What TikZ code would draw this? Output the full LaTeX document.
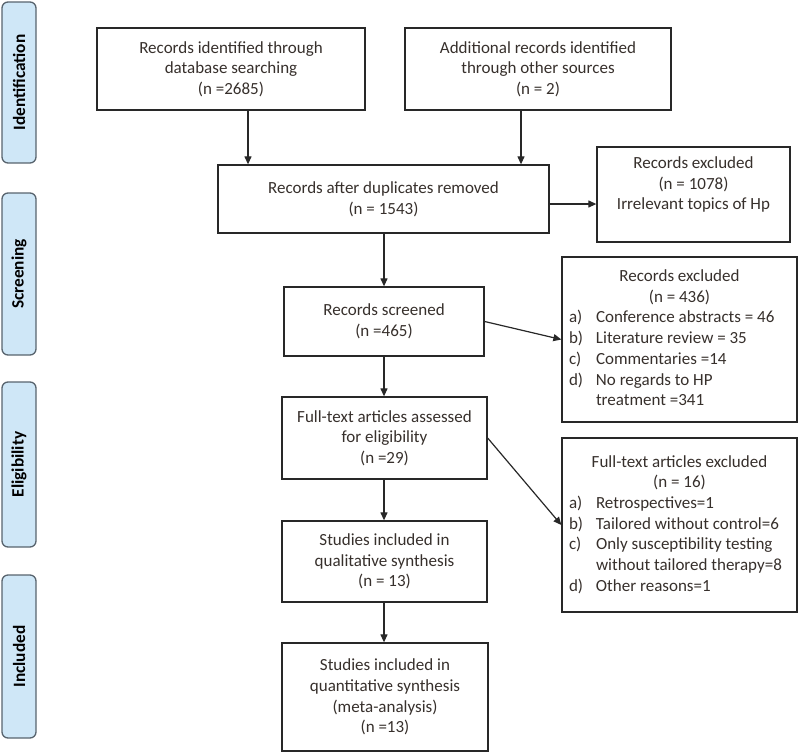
\documentclass[tikz,border=0pt]{standalone}
\usepackage{fontspec}
\setmainfont{Carlito}
\usetikzlibrary{arrows.meta}
\definecolor{sidefill}{RGB}{207,231,247}
\definecolor{sidedraw}{RGB}{88,100,110}
\definecolor{txt}{RGB}{55,48,44}
\definecolor{ln}{RGB}{40,40,40}
\tikzset{
  box/.style={draw=ln, line width=1.3pt, fill=white, align=center, inner sep=0pt,
    text=txt, font=\fontsize{17}{20.7}\selectfont},
  side/.style={draw=sidedraw, line width=1.3pt, fill=sidefill, rounded corners=6pt,
    minimum height=34pt, inner sep=0pt, rotate=90, text=black,
    font=\bfseries\fontsize{17.3}{20}\selectfont},
  arr/.style={draw=ln, line width=1.2pt, -{Triangle[length=8pt,width=7pt]}}
}
\begin{document}
\begin{tikzpicture}[x=1pt,y=-1pt]
\useasboundingbox (0,0) rectangle (800,753);
% side bars
\node[side, minimum width=161pt] (sid) at (19,82.5) {Identification};
\node[side, minimum width=162pt] (ssc) at (19,274) {Screening};
\node[side, minimum width=165pt] (sel) at (19,464.5) {Eligibility};
\node[side, minimum width=163pt] (sin) at (19,656.5) {Included};
% main boxes
\node[box, minimum width=268pt, minimum height=82pt] (b1) at (231,69)
  {Records identified through\\database searching\\(n =2685)};
\node[box, minimum width=266pt, minimum height=82pt] (b2) at (538,69)
  {Additional records identified\\through other sources\\(n = 2)};
\node[box, minimum width=331pt, minimum height=68pt] (dup) at (383.5,199)
  {Records after duplicates removed\\(n = 1543)};
\node[box, minimum width=193pt, minimum height=95pt] (ex1) at (693.5,194.5)
  {Records excluded\\(n = 1078)\\Irrelevant topics of Hp\\[2pt]};
\node[box, minimum width=200pt, minimum height=69pt] (scr) at (384,321.5)
  {Records screened\\(n =465)};
\node[box, minimum width=235pt, minimum height=165pt] (ex2) at (679.5,339.5)
  {\begin{tabular}{@{}p{27pt}@{}p{194pt}@{}}
  \multicolumn{2}{c}{Records excluded}\\
  \multicolumn{2}{c}{(n = 436)}\\
  a) & Conference abstracts = 46\\
  b) & Literature review = 35\\
  c) & Commentaries =14\\
  d) & No regards to HP\newline treatment =341
  \end{tabular}};
\node[box, minimum width=205pt, minimum height=82pt] (ft) at (384.5,438)
  {Full-text articles assessed\\for eligibility\\(n =29)};
\node[box, minimum width=235pt, minimum height=174pt] (ex3) at (679.5,525)
  {\begin{tabular}{@{}p{27pt}@{}p{194pt}@{}}
  \multicolumn{2}{c}{Full-text articles excluded}\\
  \multicolumn{2}{c}{(n = 16)}\\
  a) & Retrospectives=1\\
  b) & Tailored without control=6\\
  c) & Only susceptibility testing\newline without tailored therapy=8\\
  d) & Other reasons=1
  \end{tabular}};
\node[box, minimum width=205pt, minimum height=81pt] (qual) at (384.5,561.5)
  {Studies included in\\qualitative synthesis\\(n = 13)};
\node[box, minimum width=206pt, minimum height=108pt] (quant) at (385,697)
  {Studies included in\\quantitative synthesis\\(meta-analysis)\\(n =13)};
% connectors
\coordinate (c1) at (248,0);
\coordinate (c2) at (521,0);
\coordinate (c3) at (0,204);
\coordinate (c4) at (384,0);
\draw[arr] (b1.south -| c1) -- (dup.north -| c1);
\draw[arr] (b2.south -| c2) -- (dup.north -| c2);
\draw[arr] (dup.east |- c3) -- (ex1.west |- c3);
\draw[arr] (dup.south -| c4) -- (scr.north -| c4);
\draw[arr] (scr.east) -- (ex2.west);
\draw[arr] (scr.south -| c4) -- (ft.north -| c4);
\draw[arr] (ft.east) -- (ex3.west);
\draw[arr] (ft.south -| c4) -- (qual.north -| c4);
\draw[arr] (qual.south -| c4) -- (quant.north -| c4);
\end{tikzpicture}
\end{document}
